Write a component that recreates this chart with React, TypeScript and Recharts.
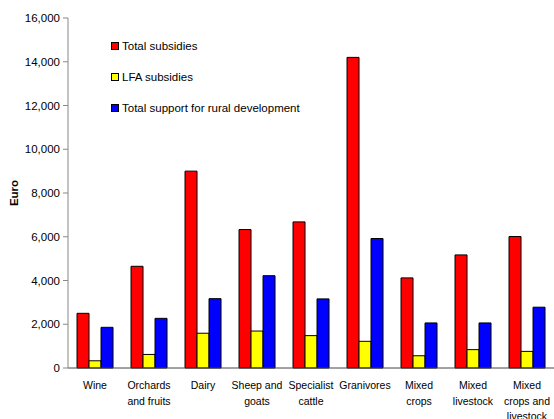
import React from 'react';
import { BarChart, Bar, XAxis, YAxis, Legend } from 'recharts';

const categories = [
  'Wine',
  'Orchards\nand fruits',
  'Dairy',
  'Sheep and\ngoats',
  'Specialist\ncattle',
  'Granivores',
  'Mixed\ncrops',
  'Mixed\nlivestock',
  'Mixed\ncrops and\nlivestock',
];
const totalSubsidies = [2500, 4650, 9000, 6330, 6680, 14200, 4120, 5170, 6010];
const lfaSubsidies = [330, 620, 1590, 1690, 1480, 1220, 560, 840, 760];
const ruralSupport = [1860, 2270, 3170, 4220, 3160, 5920, 2060, 2060, 2780];
const yTicks = [0, 2000, 4000, 6000, 8000, 10000, 12000, 14000, 16000];

const series = [
  { key: 'total', name: 'Total subsidies', color: '#FF0000' },
  { key: 'lfa', name: 'LFA subsidies', color: '#FFFF00' },
  { key: 'rural', name: 'Total support for rural development', color: '#0000FF' },
];

const data = categories.map((category, i) => ({
  category,
  total: totalSubsidies[i],
  lfa: lfaSubsidies[i],
  rural: ruralSupport[i],
}));

// category boundaries, used for the tick marks between groups
const edges = categories.map((_, i) => i).concat(categories.length);

const FONT = '"Liberation Sans", Arial, sans-serif';

const CategoryTick = ({ x, y, payload }: any) => {
  const lines = String(payload.value).split('\n');
  return (
    <text x={x} y={y} textAnchor="middle" fontFamily={FONT} fontSize={10.5} fill="#000">
      {lines.map((line, i) => (
        <tspan key={i} x={x} dy={i === 0 ? 20 : 15.5}>
          {line}
        </tspan>
      ))}
    </text>
  );
};

const LegendBox = () => (
  <div style={{ fontFamily: FONT, fontSize: 11.5, color: '#000' }}>
    {series.map((s) => (
      <div key={s.key} style={{ height: 31, display: 'flex', alignItems: 'center' }}>
        <span
          style={{
            width: 8,
            height: 8,
            boxSizing: 'border-box',
            border: '1px solid #000',
            background: s.color,
            marginRight: 3,
          }}
        />
        {s.name}
      </div>
    ))}
  </div>
);

const EuroLabel = ({ viewBox }: any) => {
  const cx = viewBox.x + 14;
  const cy = viewBox.y + viewBox.height / 2;
  return (
    <text
      x={cx}
      y={cy}
      transform={`rotate(-90 ${cx} ${cy})`}
      textAnchor="middle"
      dominantBaseline="central"
      fontFamily={FONT}
      fontSize={11.5}
      fontWeight="bold"
      fill="#000"
    >
      Euro
    </text>
  );
};

export default function App() {
  return (
    <div style={{ position: 'absolute', left: 0, top: 0, width: 554, height: 419, background: '#fff', overflow: 'hidden' }}>
      <BarChart
        width={554}
        height={419}
        data={data}
        margin={{ top: 18, right: 0, left: 0, bottom: 0 }}
        barCategoryGap="16.7%"
        barGap={0}
      >
        <XAxis
          xAxisId="a"
          type="number"
          domain={[0, categories.length]}
          ticks={edges}
          tick={false}
          tickSize={5}
          height={1}
          axisLine={{ stroke: '#444' }}
          tickLine={{ stroke: '#444' }}
          allowDataOverflow
        />
        <XAxis
          xAxisId="b"
          dataKey="category"
          height={50}
          interval={0}
          tickSize={0}
          tickMargin={0}
          axisLine={false}
          tickLine={false}
          tick={<CategoryTick />}
        />
        <YAxis
          width={68}
          domain={[0, 16000]}
          ticks={yTicks}
          interval={0}
          tickSize={5}
          tickMargin={3}
          axisLine={{ stroke: '#888' }}
          tickLine={{ stroke: '#888' }}
          tick={{ fill: '#000', fontSize: 11.5, fontFamily: FONT }}
          tickFormatter={(v: number) => v.toLocaleString('en-US')}
          label={<EuroLabel />}
        />
        <Legend
          layout="vertical"
          align="center"
          verticalAlign="middle"
          content={<LegendBox />}
          wrapperStyle={{ position: 'absolute', left: 111, top: 30, width: 'auto' }}
        />
        {series.map((s) => (
          <Bar
            key={s.key}
            xAxisId="b"
            dataKey={s.key}
            name={s.name}
            fill={s.color}
            stroke="#000"
            strokeWidth={1}
            isAnimationActive={false}
          />
        ))}
      </BarChart>
    </div>
  );
}
